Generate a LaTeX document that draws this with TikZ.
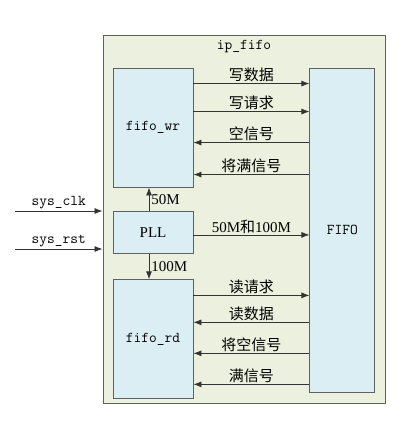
\documentclass[tikz,border=0pt]{standalone}
\usepackage{fontspec}
\setmainfont{Liberation Serif}
\newfontfamily\cjk{Noto Sans CJK SC}
\usetikzlibrary{positioning, arrows.meta}
\definecolor{shellgreen}{HTML}{EBF1DE}
\definecolor{boxblue}{HTML}{DAEEF3}
\definecolor{edgegray}{HTML}{606060}

\begin{document}
\begin{tikzpicture}[x=1pt, y=1pt, every node/.style={font=\fontsize{15}{17}\selectfont},
    block/.style={rectangle, draw=edgegray, fill=boxblue, line width=0.9pt, minimum width=80pt, inner sep=0pt},
    modname/.style={font=\fontsize{15}{17}\selectfont\ttfamily},
    sig/.style={-{Latex[length=8pt, width=6pt]}, line width=0.8pt, draw=black!80},
    cn/.style={font=\fontsize{15}{17}\selectfont\cjk, inner sep=1pt, above=0pt}]
    \useasboundingbox (0,0) rectangle (411,-433);
    % Outer ip shell
    \node[rectangle, draw=edgegray, fill=shellgreen, line width=0.9pt, minimum width=282pt, minimum height=368pt, inner sep=0pt](shell) at (244,-219){};
    \node[modname](title) at ([yshift=-12pt]shell.north){ip\_fifo};
    % Module blocks
    \node[block, modname, minimum height=119pt](wr) at (153,-127.5){fifo\_wr};
    \node[block, minimum height=42pt, below=24pt of wr](pll){PLL};
    \node[block, modname, minimum height=119pt, below=25pt of pll](rd){fifo\_rd};
    \node[block, modname, minimum width=65pt, minimum height=324pt, anchor=north west](fifo) at ([xshift=116pt]wr.north east){FIFO};
    % Clock and reset inputs
    \coordinate (clkin) at (15,-211);
    \coordinate (rstin) at (15,-249);
    \draw[sig] (clkin) -- (clkin -| shell.west) node[modname, midway, above, inner sep=2pt]{sys\_clk};
    \draw[sig] (rstin) -- (rstin -| shell.west) node[modname, midway, above, inner sep=2pt]{sys\_rst};
    % PLL clocks
    \draw[sig] ([xshift=-4pt]pll.north) -- ([xshift=-4pt]wr.south) node[midway, right, inner sep=2pt]{50M};
    \draw[sig] ([xshift=-4pt]pll.south) -- ([xshift=-4pt]rd.north) node[midway, right, inner sep=2pt]{100M};
    \path ([yshift=-2pt]pll.east) coordinate (pllout);
    \draw[sig] (pllout) -- (pllout -| fifo.west) node[midway, above, inner sep=1pt]{50M{\cjk 和}100M};
    % Write side signals
    \foreach \dy/\txt in {16/写数据, 44/写请求}{
        \path ([yshift=-\dy pt]wr.north east) coordinate (w);
        \draw[sig] (w) -- (w -| fifo.west) node[cn, midway]{\txt};
    }
    \foreach \dy/\txt in {75/空信号, 107/将满信号}{
        \path ([yshift=-\dy pt]wr.north east) coordinate (w);
        \draw[sig] (w -| fifo.west) -- (w) node[cn, midway]{\txt};
    }
    % Read side signals
    \foreach \dy/\txt in {16/读请求}{
        \path ([yshift=-\dy pt]rd.north east) coordinate (r);
        \draw[sig] (r) -- (r -| fifo.west) node[cn, midway]{\txt};
    }
    \foreach \dy/\txt in {43/读数据, 74/将空信号, 105/满信号}{
        \path ([yshift=-\dy pt]rd.north east) coordinate (r);
        \draw[sig] (r -| fifo.west) -- (r) node[cn, midway]{\txt};
    }
\end{tikzpicture}
\end{document}
